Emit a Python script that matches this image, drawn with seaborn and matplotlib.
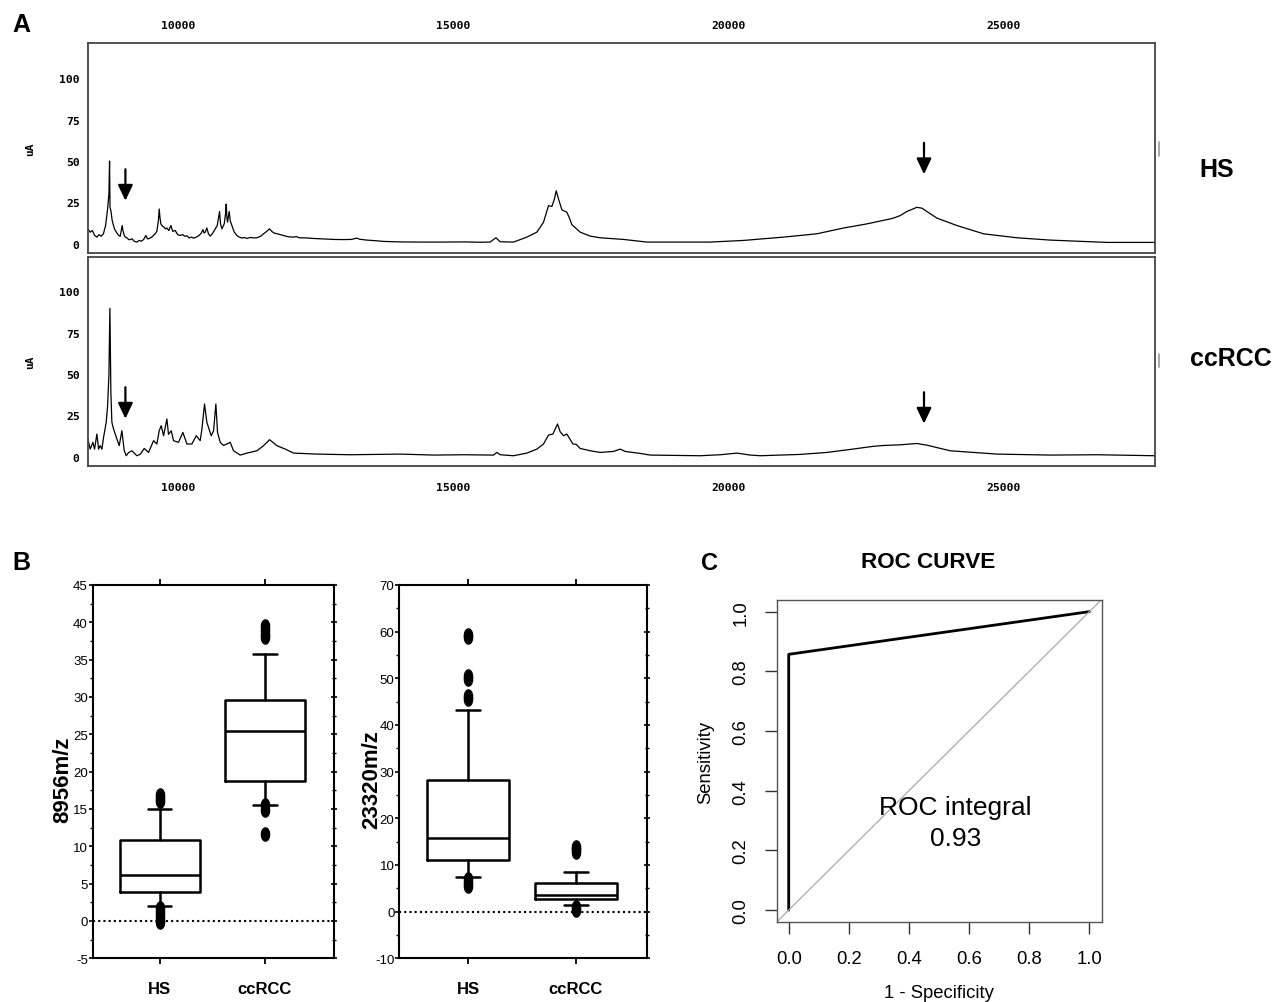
import numpy as np
import pandas as pd
import matplotlib
matplotlib.use("Agg")
import matplotlib.pyplot as plt
import seaborn as sns
from matplotlib.lines import Line2D

# ---------------- DATA ----------------
# Panel A: SELDI spectra (m/z, intensity uA)
hs_mz = [8358, 8400, 8440, 8480, 8522, 8560, 8600, 8640, 8680, 8716, 8740, 8752, 8760, 8776, 8800,
         8840, 8885, 8920, 8946, 8970, 8982, 8995, 9020, 9037, 9070, 9100, 9128, 9160, 9200, 9249,
         9290, 9330, 9370, 9412, 9440, 9461, 9520, 9580, 9612, 9640, 9655, 9668, 9685, 9703, 9740,
         9770, 9794, 9830, 9867, 9900, 9946, 9990, 10037, 10080, 10120, 10158, 10200, 10240, 10279,
         10330, 10380, 10420, 10449, 10470, 10491, 10521, 10550, 10582, 10620, 10673, 10710, 10752,
         10770, 10794, 10837, 10860, 10873, 10885, 10897, 10915, 10927, 10945, 10976, 11020, 11067,
         11110, 11158, 11200, 11250, 11309, 11370, 11431, 11500, 11552, 11610, 11661, 11700, 11734,
         11800, 11850, 11915, 12000, 12097, 12150, 12200, 12339, 12450, 12582, 12700, 12824, 13000,
         13150, 13248, 13300, 13430, 13600, 13733, 14036, 14400, 14800, 15200, 15500, 15673, 15776,
         15855, 16097, 16339, 16522, 16642, 16733, 16794, 16840, 16873, 16915, 16976, 17067, 17120,
         17158, 17309, 17491, 17673, 18097, 18522, 19673, 20279, 21006, 21612, 22097, 22522, 22946,
         23006, 23127, 23249, 23430, 23521, 23794, 24158, 24643, 25249, 25855, 26461, 26885, 27764]
hs_int = [9, 7, 8, 5, 4, 5.5, 4.5, 6, 11, 21, 30, 50, 22, 20, 14,
          9, 6.5, 5, 4.5, 9, 11, 8, 5, 4, 3.5, 2.5, 2.5, 3, 1.5, 1,
          2, 1.5, 2.5, 5, 3, 3, 4, 6, 7.5, 14, 21, 16, 12, 11, 10,
          9, 9.5, 8, 11, 7.5, 8, 5.5, 5, 5.5, 4.5, 4.8, 3.5, 4, 3.4,
          4, 5, 6.5, 8.5, 6.5, 7, 9.5, 6, 4.6, 6, 9, 11, 19.5,
          12, 9, 12, 18, 24, 16, 13, 17, 19.5, 14, 11, 7, 5,
          4, 3.4, 3.8, 3.2, 3.8, 3.5, 3.6, 4.5, 6, 7.5, 9, 7.5, 6.6,
          6, 5.5, 5, 4.2, 4, 4.3, 3.6, 3.5, 3.2, 3, 2.8, 2.6, 2.5,
          2.6, 3.4, 2.7, 2.2, 1.8, 1.4, 1.1, 1.0, 1.0, 1.1, 0.9, 1.0, 3.6,
          1.2, 1.0, 4, 7, 13, 23, 22.5, 27, 32, 27, 20.5, 19, 15,
          11.5, 7, 4.6, 3.6, 2.6, 1.0, 1.0, 2, 4, 6, 9.5, 12, 15,
          15.5, 17, 19.5, 22, 21.5, 15.5, 11, 6, 3.6, 2.2, 1.4, 0.8, 0.8]

cc_mz = [8358, 8400, 8449, 8479, 8522, 8552, 8582, 8613, 8643, 8691, 8716, 8740, 8758, 8776, 8794,
         8825, 8885, 8928, 8976, 9019, 9055, 9097, 9158, 9249, 9310, 9382, 9461, 9552, 9612, 9655,
         9691, 9734, 9794, 9824, 9873, 9915, 10006, 10085, 10158, 10249, 10328, 10400, 10431, 10479,
         10521, 10600, 10643, 10685, 10715, 10764, 10824, 10885, 10946, 11006, 11127, 11249, 11431,
         11552, 11661, 11794, 11946, 12097, 12521, 13127, 14036, 14642, 15200, 15733, 15794, 15855,
         16097, 16339, 16521, 16642, 16733, 16812, 16897, 16945, 17006, 17067, 17176, 17236, 17309,
         17491, 17673, 17915, 18036, 18127, 18400, 18582, 19491, 19855, 20158, 20400, 20582, 21309,
         21794, 22218, 22642, 22824, 23127, 23430, 23612, 24036, 24885, 25855, 26703, 27763]
cc_int = [10.7, 4.6, 8.7, 4.6, 13.7, 4.6, 6.7, 4.6, 11.7, 20.8, 30.8, 49, 89.7, 39, 20.8,
          16.7, 10.7, 6.7, 15.7, 3.6, 0.6, 2.5, 3.6, 0.6, 1.5, 5, 2.6, 9.7, 7.7, 15.7,
          18.8, 12.7, 22.8, 13.5, 15.7, 9.7, 8.7, 14.7, 7.7, 7.7, 12.7, 9.7, 16.7, 31.9,
          20.8, 12.7, 15.7, 31.9, 14.7, 8.7, 6.8, 7.7, 8.7, 3.6, 1, 2.2, 3.6,
          6.7, 10.3, 6.7, 4.6, 2.2, 1.6, 1.2, 1.6, 1.0, 1.2, 1.0, 2.6, 1.2,
          0.6, 2.2, 4.6, 7.7, 13.1, 13.7, 19.8, 15.1, 12.7, 13.7, 7.7, 7.5, 5,
          3.6, 2.6, 3.2, 4.6, 3.2, 2, 1, 0.6, 1.2, 2.2, 1.0, 0.6, 1.4,
          2.6, 4.4, 6.3, 6.8, 7.2, 8, 7, 3.6, 1.6, 1, 1.2, 0.6]

# Arrow marks (m/z of marked peaks; arrow top / tip intensity per spectrum)
arrow_mz = [9040, 23560]
hs_arrow_top = [45, 61]
hs_arrow_tip = [26, 42]
cc_arrow_top = [42, 39]
cc_arrow_tip = [23, 20]

spec_xticks = [10000, 15000, 20000, 25000]
spec_yticks = [0, 25, 50, 75, 100]

# Panel B: box-plot statistics
groups = ["HS", "ccRCC"]
b1_q1 = [3.85, 18.7]
b1_med = [6.2, 25.45]
b1_q3 = [10.85, 29.6]
b1_lo = [1.95, 15.55]
b1_hi = [15.0, 35.8]
b1_fliers = [[16.9, 16.5, 16.1, 1.8, 1.2, 0.6, 0.1, -0.2],
             [39.5, 39.0, 38.5, 38.0, 15.6, 14.8, 11.7]]

b2_q1 = [11.15, 2.7]
b2_med = [15.7, 3.55]
b2_q3 = [28.3, 6.15]
b2_lo = [7.4, 1.45]
b2_hi = [43.2, 8.6]
b2_fliers = [[59.2, 58.8, 50.6, 49.9, 46.2, 45.6, 7.0, 6.2, 5.5],
             [13.9, 13.4, 12.8, 1.0, 0.4]]

# Panel C: ROC
roc_fpr = [0.0, 0.0, 1.0]
roc_tpr = [0.0, 0.857, 1.0]
roc_auc = 0.93

# ---------------- STYLE ----------------
sns.set_theme(style="white")
plt.rcParams["font.family"] = ["Liberation Sans", "DejaVu Sans"]
plt.rcParams["axes.unicode_minus"] = False
for k in ["text.color", "axes.labelcolor", "xtick.color", "ytick.color"]:
    plt.rcParams[k] = "black"

W, H = 1276, 1003
fig = plt.figure(figsize=(W / 100, H / 100), dpi=100)


def rect(l, t, r, b):
    return [l / W, 1 - b / H, (r - l) / W, (b - t) / H]


def fx(px):
    return px / W


def fy(py):
    return 1 - py / H


MONO = dict(family="DejaVu Sans Mono", weight="bold", size=8.2)

# ---------------- PANEL A ----------------
ax_hs = fig.add_axes(rect(88, 44, 1155, 254))
ax_cc = fig.add_axes(rect(88, 258, 1155, 467))

specs = [
    (ax_hs, hs_mz, hs_int, hs_arrow_top, hs_arrow_tip, (-5.6, 121.3), True),
    (ax_cc, cc_mz, cc_int, cc_arrow_top, cc_arrow_tip, (-5.6, 120.7), False),
]
for ax, mz, inten, atop, atip, ylim, top in specs:
    df = pd.DataFrame({"mz": mz, "uA": inten})
    sns.lineplot(data=df, x="mz", y="uA", ax=ax, color="black", lw=0.9,
                 estimator=None, errorbar=None)
    ax.set_xlim(8360, 27760)
    ax.set_ylim(*ylim)
    ax.set_yticks(spec_yticks, labels=[str(v) for v in spec_yticks], fontdict=MONO)
    ax.set_xticks(spec_xticks, labels=[str(v) for v in spec_xticks], fontdict=MONO)
    if top:
        ax.xaxis.tick_top()
        ax.tick_params(axis="x", length=0, pad=9.5)
    else:
        ax.tick_params(axis="x", length=0, pad=11.5)
    ax.tick_params(axis="y", length=0, pad=6)
    ax.set_xlabel("")
    ax.set_ylabel("uA", fontdict=MONO, fontsize=8)
    ax.yaxis.set_label_coords(-0.0544, 0.5)
    ax.yaxis.label.set_va("center")
    for s in ax.spines.values():
        s.set_color("#444444")
        s.set_linewidth(1.3)
    for x, y0, y1 in zip(arrow_mz, atop, atip):
        ax.annotate("", xy=(x, y1), xytext=(x, y0),
                    arrowprops=dict(arrowstyle="-|>,head_length=0.95,head_width=0.45",
                                    color="black", lw=1.6, shrinkA=0, shrinkB=0,
                                    mutation_scale=10))

fig.add_artist(Line2D([fx(1159)] * 2, [fy(143), fy(157)], color="#999999", lw=1.2))
fig.add_artist(Line2D([fx(1159)] * 2, [fy(355), fy(368)], color="#999999", lw=1.2))
fig.text(fx(1217), fy(170), "HS", ha="center", va="center", fontsize=18, fontweight="bold")
fig.text(fx(1231), fy(359), "ccRCC", ha="center", va="center", fontsize=18, fontweight="bold")

# ---------------- PANEL B ----------------
t = np.linspace(0, 2 * np.pi, 40)
ell = np.column_stack([0.62 * np.cos(t), np.sin(t)])


def boxpanel(ax, q1, med, q3, lo, hi, fliers, ylim, major, minor, ylabel, labx):
    stats = [dict(label=g, q1=a, med=m, q3=b, whislo=l, whishi=h, fliers=f)
             for g, a, m, b, l, h, f in zip(groups, q1, med, q3, lo, hi, fliers)]
    lp = dict(color="black", lw=1.8)
    ax.bxp(stats, positions=[0, 1], widths=0.76, capwidths=0.22,
           boxprops=lp, whiskerprops=lp, capprops=lp, medianprops=lp,
           flierprops=dict(marker=ell, markersize=9.5, markerfacecolor="black",
                           markeredgecolor="black", linestyle="none"))
    ax.axhline(0, color="black", lw=1.5, ls=(0, (1, 1.5)))
    ax.set_xlim(-0.64, 1.66)
    ax.set_ylim(*ylim)
    ax.set_yticks(np.arange(ylim[0], ylim[1] + 0.1, major))
    ax.set_yticks(np.arange(ylim[0], ylim[1] + 0.1, minor), minor=True)
    ax.set_xticks([0, 1], labels=groups, fontweight="bold", fontsize=12)
    ax.tick_params(axis="x", which="major", direction="out", length=4, width=1.3,
                   top=True, bottom=True, pad=12, color="black")
    ax.tick_params(axis="y", which="major", direction="out", length=3, width=1.2,
                   left=True, labelsize=9.5, pad=0.5, color="black")
    ax.tick_params(axis="y", which="minor", direction="out", length=2, width=1.0,
                   left=True, color="black")
    sec = ax.secondary_yaxis("right")
    sec.set_yticks(np.arange(ylim[0], ylim[1] + 0.1, major))
    sec.set_yticks(np.arange(ylim[0], ylim[1] + 0.1, minor), minor=True)
    sec.tick_params(which="major", direction="inout", length=5, width=1.2, labelright=False,
                    color="black")
    sec.tick_params(which="minor", direction="inout", length=3, width=1.0, color="black")
    sec.spines["right"].set_visible(False)
    for s in ax.spines.values():
        s.set_color("black")
        s.set_linewidth(1.5)
    ax.set_ylabel(ylabel, fontsize=16, fontweight="bold")
    ax.yaxis.set_label_coords(labx, 0.48)
    ax.yaxis.label.set_va("center")


ax_b1 = fig.add_axes(rect(92.7, 586, 334.3, 959.3))
boxpanel(ax_b1, b1_q1, b1_med, b1_q3, b1_lo, b1_hi, b1_fliers, (-5, 45), 5, 2.5,
         "8956m/z", -0.125)
ax_b2 = fig.add_axes(rect(399.3, 586, 646.7, 959.3))
boxpanel(ax_b2, b2_q1, b2_med, b2_q3, b2_lo, b2_hi, b2_fliers, (-10, 70), 10, 5,
         "23320m/z", -0.112)

# ---------------- PANEL C ----------------
ax_r = fig.add_axes(rect(776.7, 601, 1101.7, 923.3))
sns.lineplot(x=roc_fpr, y=roc_tpr, sort=False, estimator=None, errorbar=None,
             ax=ax_r, color="black", lw=2.0)
ax_r.axline((0, 0), (1, 1), color="#aaaaaa", lw=0.9)
ax_r.set_xlim(-0.04, 1.041)
ax_r.set_ylim(-0.041, 1.039)
rticks = [0.0, 0.2, 0.4, 0.6, 0.8, 1.0]
ax_r.set_xticks(rticks, labels=[f"{v:.1f}" for v in rticks])
ax_r.set_yticks(rticks, labels=[f"{v:.1f}" for v in rticks], rotation=90, va="center")
ax_r.tick_params(axis="both", direction="out", length=8.5, width=1.0, color="#333333",
                 labelsize=13.3, left=True, bottom=True)
ax_r.tick_params(axis="x", pad=11.5)
ax_r.tick_params(axis="y", pad=11)
for s in ax_r.spines.values():
    s.set_color("#555555")
    s.set_linewidth(1.0)
ax_r.set_xlabel("1 - Specificity", fontsize=13.3)
ax_r.set_ylabel("Sensitivity", fontsize=13.3)
ax_r.xaxis.set_label_coords(0.5, -0.2163)
ax_r.xaxis.label.set_va("center")
ax_r.yaxis.set_label_coords(-0.2175, 0.5)
ax_r.yaxis.label.set_va("center")
ax_r.text(0.549, 0.31, f"ROC integral\n{roc_auc:.2f}", transform=ax_r.transAxes,
          ha="center", va="center", fontsize=19, linespacing=1.4)
fig.text(fx(928), fy(563), "ROC CURVE", ha="center", va="center", fontsize=16.2,
         fontweight="bold")

# panel letters
fig.text(fx(21), fy(25.5), "A", ha="center", va="center", fontsize=18, fontweight="bold")
fig.text(fx(21), fy(563.5), "B", ha="center", va="center", fontsize=18, fontweight="bold")
fig.text(fx(710), fy(563.5), "C", ha="center", va="center", fontsize=17, fontweight="bold")

fig.savefig("out.png", dpi=100, facecolor="white")
